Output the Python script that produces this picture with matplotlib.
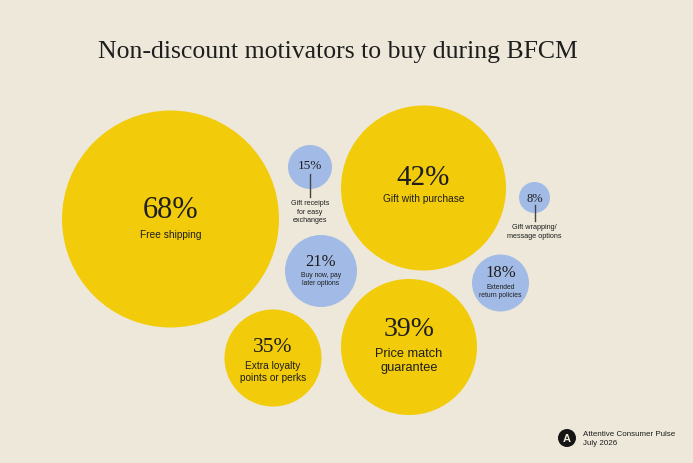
import matplotlib.pyplot as plt
from matplotlib.patches import Circle

# data
values = [68, 42, 39, 35, 21, 18, 15, 8]
labels = ["Free shipping", "Gift with purchase", "Price match\nguarantee",
          "Extra loyalty\npoints or perks", "Buy now, pay\nlater options",
          "Extended\nreturn policies", "Gift receipts\nfor easy\nexchanges",
          "Gift wrapping/\nmessage options"]
title = "Non-discount motivators to buy during BFCM"
source = "Attentive Consumer Pulse\nJuly 2026"

# layout (pixels, y down)
cx = [170.5, 423.5, 409, 273, 321, 500.5, 310, 534.5]
cy = [219, 188, 347, 358, 271, 283, 167, 197.5]
rad = [108.5, 82.5, 68, 48.5, 36, 28.5, 22, 15.5]
num_dy = [-8, -10, -18, -10, -9, -10, -1, 1]
lab_dy = [16, 11, 14, 14, 8.5, 8.5, None, None]
num_fs = [22, 21, 20, 15.5, 12, 12, 9.5, 9]
lab_fs = [7.3, 7.3, 9.2, 7.3, 4.9, 4.9, 5.1, 5.2]

bg = "#EDE8D9"
yellow = "#F2CB0B"
blue = "#A2BBE6"
ink = "#1E1E1E"
serif = ["Liberation Serif", "DejaVu Serif"]
sans = ["Liberation Sans", "DejaVu Sans"]

fig = plt.figure(figsize=(6.93, 4.63), dpi=100, facecolor=bg)
ax = fig.add_axes([0, 0, 1, 1])
ax.set_xlim(0, 693)
ax.set_ylim(463, 0)
ax.set_aspect("equal")
ax.axis("off")
ax.set_facecolor(bg)

ax.text(338, 52, title, ha="center", va="center", fontsize=18.5,
        family=serif, color=ink)

for i, v in enumerate(values):
    col = yellow if v >= 30 else blue
    ax.add_patch(Circle((cx[i], cy[i]), rad[i], facecolor=col, edgecolor="none"))
    ax.text(cx[i], cy[i] + num_dy[i], f"{v}%", ha="center", va="center",
            fontsize=num_fs[i], family=serif, color=ink)
    if lab_dy[i] is not None:
        ax.text(cx[i], cy[i] + lab_dy[i], labels[i], ha="center", va="center",
                fontsize=lab_fs[i], family=sans, color=ink, linespacing=1.25)
    else:
        # small bubbles: label below with a connector line
        top = cy[i] + 7
        bot = cy[i] + rad[i] + 8
        ax.plot([cx[i], cx[i]], [top, bot], color="#444444", lw=1)
        ax.text(cx[i], bot + 3, labels[i], ha="center", va="top",
                fontsize=lab_fs[i], family=sans, color=ink, linespacing=1.3)

# footer logo + source
ax.add_patch(Circle((567, 438), 9, facecolor="#151515", edgecolor="none"))
ax.text(567, 438.5, "A", ha="center", va="center", fontsize=8,
        fontweight="bold", family=sans, color=bg)
ax.text(583, 439, source, ha="left", va="center", fontsize=5.8,
        family=sans, color=ink, linespacing=1.45)

fig.savefig("out.png", dpi=100, facecolor=bg)
